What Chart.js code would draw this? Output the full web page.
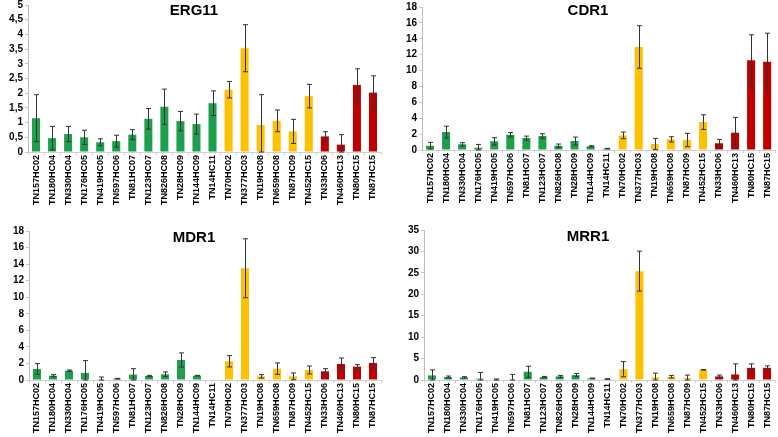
<!DOCTYPE html>
<html>
<head>
<meta charset="utf-8">
<script src="https://cdn.jsdelivr.net/npm/chart.js@4"></script>
<style>
  html, body { margin: 0; padding: 0; background: #fff; }
  body { width: 778px; height: 437px; position: relative; overflow: hidden; font-family: 'Liberation Sans', Arial, sans-serif; }
  .panel { position: absolute; }
  .title { position: absolute; width: 120px; text-align: center; font-weight: bold; font-size: 15px; color: #000; line-height: 17px; }
</style>
</head>
<body>
<div class="panel" style="left:0;top:-8px;width:390px;height:226px"><canvas id="erg11Chart"></canvas></div>
<div class="panel" style="left:390px;top:-8px;width:388px;height:226px"><canvas id="cdr1Chart"></canvas></div>
<div class="panel" style="left:0;top:218px;width:390px;height:219px"><canvas id="mdr1Chart"></canvas></div>
<div class="panel" style="left:390px;top:218px;width:388px;height:219px"><canvas id="mrr1Chart"></canvas></div>
<div class="title" style="left:134px;top:1px">ERG11</div>
<div class="title" style="left:528px;top:1px">CDR1</div>
<div class="title" style="left:134px;top:228px">MDR1</div>
<div class="title" style="left:528px;top:227px">MRR1</div>
<script>
// strains (x categories)
const strains = ['TN157HC02', 'TN180HC04', 'TN330HC04', 'TN176HC05', 'TN419HC05', 'TN597HC06', 'TN81HC07',
    'TN123HC07', 'TN826HC08', 'TN28HC09', 'TN144HC09', 'TN14HC11', 'TN70HC02', 'TN377HC03', 'TN19HC08',
    'TN659HC08', 'TN87HC09', 'TN452HC15', 'TN33HC06', 'TN460HC13', 'TN80HC15', 'TN87HC15'];
// group of each strain: g = green, y = yellow, r = red
const groups = ['g','g','g','g','g','g','g','g','g','g','g','g','y','y','y','y','y','y','r','r','r','r'];

const erg11Values = [1.15, 0.47, 0.61, 0.50, 0.33, 0.37, 0.59, 1.13, 1.54, 1.05, 0.95, 1.66, 2.12, 3.53, 0.92, 1.06, 0.70, 1.90, 0.53, 0.25, 2.28, 2.02];
const erg11Errors = [0.80, 0.40, 0.26, 0.24, 0.12, 0.20, 0.17, 0.35, 0.60, 0.33, 0.34, 0.42, 0.28, 0.80, 1.03, 0.37, 0.41, 0.40, 0.16, 0.34, 0.55, 0.57];

const cdr1Values = [0.54, 2.26, 0.71, 0.29, 1.09, 1.92, 1.50, 1.76, 0.54, 1.13, 0.46, 0.17, 1.84, 12.97, 0.75, 1.34, 1.26, 3.51, 0.84, 2.18, 11.30, 11.10];
const cdr1Errors = [0.42, 0.74, 0.21, 0.41, 0.46, 0.28, 0.25, 0.29, 0.21, 0.50, 0.08, 0.03, 0.42, 2.68, 0.71, 0.33, 0.84, 0.92, 0.50, 1.92, 3.20, 3.60];

const mdr1Values = [1.33, 0.52, 1.13, 0.85, 0.08, 0.16, 0.65, 0.48, 0.69, 2.42, 0.52, 0, 2.26, 13.50, 0.44, 1.37, 0.44, 1.21, 1.05, 1.94, 1.61, 2.06];
const mdr1Errors = [0.65, 0.13, 0.08, 1.49, 0.28, 0.04, 0.72, 0.08, 0.28, 0.85, 0.04, 0, 0.68, 3.56, 0.21, 0.69, 0.41, 0.48, 0.32, 0.72, 0.24, 0.64];

const mrr1Values = [1.07, 0.69, 0.61, 0.31, 0.08, 0.10, 1.92, 0.69, 0.84, 1.15, 0.38, 0.23, 2.53, 25.40, 0.61, 0.77, 0.46, 2.38, 0.84, 1.30, 2.84, 2.84];
const mrr1Errors = [1.31, 0.23, 0.16, 1.46, 0.15, 1.20, 1.30, 0.15, 0.23, 0.38, 0.08, 0.08, 1.77, 4.66, 1.00, 0.30, 0.69, 0.07, 0.31, 2.46, 0.92, 0.46];

const groupColors = { g: '#1f9f4c', y: '#ffc000', r: '#c00000' };

Chart.defaults.font.family = "'Liberation Sans', Arial, sans-serif";
Chart.defaults.font.weight = 'bold';
Chart.defaults.color = '#000';

// draws the error bars on top of the bars using the y scale
const errorBarPlugin = {
    id: 'errorBars',
    afterDatasetsDraw(chart) {
        const errors = chart.options.plugins.errorBars.errors;
        const yScale = chart.scales.y;
        const meta = chart.getDatasetMeta(0);
        const values = chart.data.datasets[0].data;
        const ctx = chart.ctx;
        ctx.save();
        ctx.strokeStyle = '#333';
        ctx.lineWidth = 1;
        meta.data.forEach((bar, i) => {
            const err = errors[i];
            if (!err) return;
            const x = Math.round(bar.x) + 0.5;
            const yTop = yScale.getPixelForValue(values[i] + err);
            const yBot = yScale.getPixelForValue(Math.max(0, values[i] - err));
            ctx.beginPath();
            ctx.moveTo(x, yTop);
            ctx.lineTo(x, yBot);
            ctx.moveTo(x - 2.5, yTop);
            ctx.lineTo(x + 2.5, yTop);
            ctx.moveTo(x - 2.5, yBot);
            ctx.lineTo(x + 2.5, yBot);
            ctx.stroke();
        });
        ctx.restore();
    }
};

function makeChart(id, values, errors, yMax, yStep, area) {
    const canvas = document.getElementById(id);
    const h = canvas.parentNode.clientHeight;
    return new Chart(canvas, {
        type: 'bar',
        data: {
            labels: strains,
            datasets: [{
                data: values,
                backgroundColor: groups.map(g => groupColors[g]),
                borderWidth: 0,
                barPercentage: 0.5,
                categoryPercentage: 1
            }]
        },
        options: {
            responsive: true,
            maintainAspectRatio: false,
            animation: false,
            layout: { padding: { top: area.top, right: area.right, left: 0, bottom: 0 } },
            scales: {
                y: {
                    min: 0,
                    max: yMax,
                    afterFit: scale => { scale.width = area.left; },
                    grid: { display: true, drawOnChartArea: false, tickLength: 3, color: '#c8c8c8' },
                    border: { display: true, color: '#bdbdbd' },
                    ticks: {
                        stepSize: yStep,
                        autoSkip: false,
                        padding: 2,
                        font: { size: 10, weight: 'bold' },
                        callback: v => String(v).replace('.', ',')
                    }
                },
                x: {
                    afterFit: scale => { scale.height = h - area.bottom; },
                    grid: { display: true, drawOnChartArea: false, tickLength: 3, color: '#cfcfcf' },
                    border: { display: true, color: '#cfcfcf' },
                    ticks: {
                        autoSkip: false,
                        minRotation: 90,
                        maxRotation: 90,
                        padding: 0,
                        font: { size: 9, weight: 'bold' }
                    }
                }
            },
            plugins: {
                legend: { display: false },
                tooltip: { enabled: false },
                errorBars: { errors: errors }
            }
        },
        plugins: [errorBarPlugin]
    });
}

// area values are in canvas coordinates (top panels are shifted up by 8px)
makeChart('erg11Chart', erg11Values, erg11Errors, 5, 0.5, { left: 28, right: 9, top: 13, bottom: 160 });
makeChart('cdr1Chart', cdr1Values, cdr1Errors, 18, 2, { left: 32, right: 2, top: 15, bottom: 158 });
makeChart('mdr1Chart', mdr1Values, mdr1Errors, 18, 2, { left: 29, right: 9, top: 13, bottom: 162 });
makeChart('mrr1Chart', mrr1Values, mrr1Errors, 35, 5, { left: 34, right: 3, top: 12, bottom: 162 });
</script>
</body>
</html>
